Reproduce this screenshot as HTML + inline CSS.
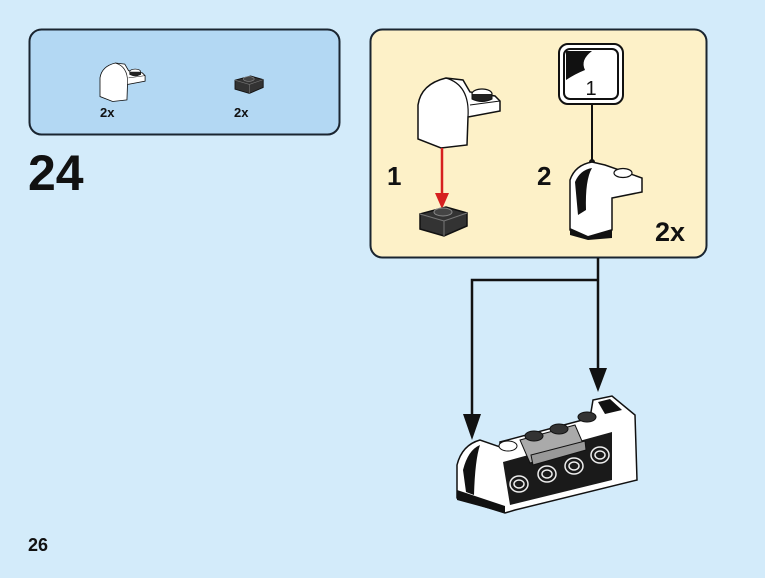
<!DOCTYPE html>
<html><head><meta charset="utf-8"><style>
body{margin:0;background:#d3ebfa;}
svg{display:block;font-family:"Liberation Sans",sans-serif;}
</style></head><body>
<svg width="765" height="578" viewBox="0 0 765 578">
<defs>
<g id="slope">
<path d="M418,105 Q421,84 446,78 L463,80 L470,92 L495,96 L500,101 L500,111 L468,117 L467,145 L441,148 L418,139 Z" fill="#fff" stroke="#111" stroke-width="1.5"/>
<path d="M446,78 Q470,85 468,117" fill="none" stroke="#111" stroke-width="1.2"/>
<path d="M470,105 L500,101" fill="none" stroke="#111" stroke-width="1"/>
<ellipse cx="482" cy="94" rx="10" ry="5" fill="#fff" stroke="#111" stroke-width="1.2"/>
<path d="M472,94 L472,99 Q482,104 492,99 L492,94" fill="#222" stroke="#111"/>
</g>
<g id="plate">
<path d="M420,214 L446,207 L467,213 L467,226 L444,236 L420,229 Z" fill="#333" stroke="#111" stroke-width="1.5"/>
<path d="M420,214 L444,221 L467,213 M444,221 L444,236" fill="none" stroke="#777" stroke-width="1"/>
<ellipse cx="443" cy="212" rx="9" ry="4" fill="#444" stroke="#888"/>
</g>
</defs>
<rect x="29.5" y="29.5" width="310" height="105" rx="12" fill="#b3d8f3" stroke="#1a2530" stroke-width="2"/>
<g transform="translate(100,63) scale(0.55) translate(-418,-78)"><use href="#slope"/></g>
<text x="100" y="117" font-size="13" font-weight="bold" fill="#111">2x</text>
<g transform="translate(235,76) scale(0.6) translate(-420,-207)"><use href="#plate"/></g>
<text x="234" y="117" font-size="13" font-weight="bold" fill="#111">2x</text>
<text x="28" y="190" font-size="50" font-weight="bold" fill="#111">24</text>

<rect x="370.5" y="29.5" width="336" height="228" rx="12" fill="#fdf1c8" stroke="#1a2530" stroke-width="2"/>
<use href="#slope"/>
<line x1="442" y1="148" x2="442" y2="195" stroke="#d62020" stroke-width="2.5"/>
<path d="M435,193 L449,193 L442,209 Z" fill="#d62020"/>
<use href="#plate"/>
<text x="387" y="185" font-size="26" font-weight="bold" fill="#111">1</text>
<text x="537" y="185" font-size="26" font-weight="bold" fill="#111">2</text>
<rect x="559" y="44" width="64" height="60" rx="9" fill="#fff" stroke="#111" stroke-width="2"/>
<rect x="564" y="49" width="54" height="50" rx="6" fill="#fff" stroke="#111" stroke-width="2"/>
<path d="M566,51 L592,51 Q580,60 585,70 Q575,74 566,80 Z" fill="#111"/>
<text x="591" y="95" font-size="20" fill="#111" text-anchor="middle">1</text>
<line x1="592" y1="104" x2="592" y2="162" stroke="#111" stroke-width="2"/>
<circle cx="592" cy="162" r="3" fill="#111"/>
<path d="M570,180 Q575,165 592,162 L605,165 L642,178 L642,192 L612,198 L612,230 L588,238 L570,230 Z" fill="#fff" stroke="#111" stroke-width="1.5"/>
<path d="M570,228 L588,236 L612,229 L612,238 L588,240 L570,235 Z" fill="#111"/>
<path d="M575,182 Q580,170 592,168 Q585,180 586,210 L578,215 Z" fill="#111"/>
<ellipse cx="623" cy="173" rx="9" ry="4.5" fill="#fff" stroke="#111" stroke-width="1.2"/>
<text x="655" y="241" font-size="27" font-weight="bold" fill="#111">2x</text>

<path d="M598,258 L598,372 M598,280 L472,280 L472,418" fill="none" stroke="#111" stroke-width="2.5"/>
<path d="M589,368 L607,368 L598,392 Z" fill="#111"/>
<path d="M463,414 L481,414 L472,440 Z" fill="#111"/>

<path d="M457,465 Q462,445 480,440 L500,447 L500,442 L590,418 L593,400 L612,396 L635,415 L637,480 L515,510 L505,513 L457,498 Z" fill="#fff" stroke="#111" stroke-width="1.5"/>
<path d="M503,462 L612,432 L612,480 L510,505 Z" fill="#1a1a1a"/>
<path d="M457,490 L505,506 L505,513 L457,500 Z" fill="#111"/>
<path d="M463,470 Q468,450 480,445 Q475,460 474,495 L466,492 Z" fill="#111"/>
<path d="M598,402 L610,399 L622,410 L605,414 Z" fill="#111"/>
<path d="M520,440 L575,425 L585,448 L530,463 Z" fill="#aaa" stroke="#111" stroke-width="1"/>
<path d="M531,455 L585,441 L586,450 L533,465 Z" fill="#999" stroke="#111"/>
<ellipse cx="508" cy="446" rx="9" ry="5" fill="#fff" stroke="#111"/>
<ellipse cx="534" cy="436" rx="9" ry="5" fill="#333" stroke="#111"/>
<ellipse cx="559" cy="429" rx="9" ry="5" fill="#333" stroke="#111"/>
<ellipse cx="587" cy="417" rx="9" ry="5" fill="#333" stroke="#111"/>
<g fill="none" stroke="#eee" stroke-width="1.5">
<ellipse cx="519" cy="484" rx="9" ry="8"/><ellipse cx="519" cy="484" rx="5" ry="4"/>
<ellipse cx="547" cy="474" rx="9" ry="8"/><ellipse cx="547" cy="474" rx="5" ry="4"/>
<ellipse cx="574" cy="466" rx="9" ry="8"/><ellipse cx="574" cy="466" rx="5" ry="4"/>
<ellipse cx="600" cy="455" rx="9" ry="8"/><ellipse cx="600" cy="455" rx="5" ry="4"/>
</g>
<text x="28" y="551" font-size="18" font-weight="bold" fill="#111">26</text>
</svg>
</body></html>
